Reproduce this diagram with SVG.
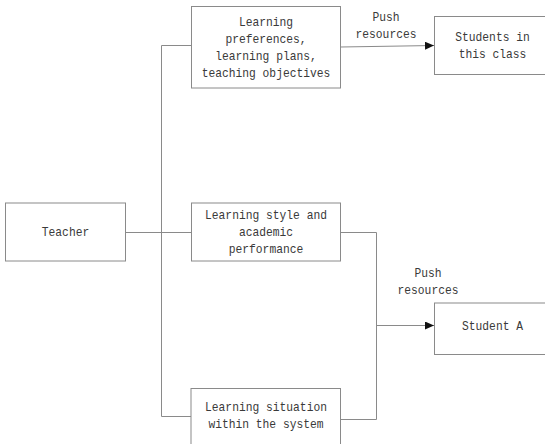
<svg xmlns="http://www.w3.org/2000/svg" width="545" height="444" viewBox="0 0 545 444">
<style>
.box{fill:#fff;stroke:#8a8a8a;stroke-width:1}
.ln{fill:none;stroke:#8a8a8a;stroke-width:1}
text{font-family:"Liberation Mono","DejaVu Sans Mono",monospace;font-size:13.5px;fill:#3a3a3a;text-anchor:middle}
</style>
<defs>
<marker id="ah" markerWidth="10" markerHeight="8" refX="9" refY="4" orient="auto" markerUnits="userSpaceOnUse">
<path d="M0,0 L9,4 L0,8 Z" fill="#111"/>
</marker>
</defs>
<rect width="545" height="444" fill="#fff"/>
<g id="connectors">
<path class="ln" d="M191.5,45.5 H161.5 V416.5 H191"/>
<path class="ln" d="M125.5,232.5 H191"/>
<path class="ln" d="M340.5,47 L434,45.5" marker-end="url(#ah)"/>
<path class="ln" d="M340.5,232.5 H376.5 V419.5 H340.5"/>
<path class="ln" d="M376.5,325.5 H434" marker-end="url(#ah)"/>
<text x="386" y="21" textLength="27.1" lengthAdjust="spacingAndGlyphs">Push</text>
<text x="386" y="37.5" textLength="60.9" lengthAdjust="spacingAndGlyphs">resources</text>
<text x="428" y="277" textLength="27.1" lengthAdjust="spacingAndGlyphs">Push</text>
<text x="428" y="294.3" textLength="60.9" lengthAdjust="spacingAndGlyphs">resources</text>
</g>
<g id="node-objectives">
<rect class="box" x="191.5" y="6.5" width="149" height="81.5"/>
<text x="266" y="26" textLength="54.2" lengthAdjust="spacingAndGlyphs">Learning</text>
<text x="266" y="43" textLength="81.2" lengthAdjust="spacingAndGlyphs">preferences,</text>
<text x="266" y="60" textLength="101.6" lengthAdjust="spacingAndGlyphs">learning plans,</text>
<text x="266" y="76.5" textLength="128.6" lengthAdjust="spacingAndGlyphs">teaching objectives</text>
</g>
<g id="node-class">
<rect class="box" x="434.5" y="16.5" width="120" height="58"/>
<text x="492.5" y="41" textLength="74.5" lengthAdjust="spacingAndGlyphs">Students in</text>
<text x="492.5" y="57.7" textLength="67.7" lengthAdjust="spacingAndGlyphs">this class</text>
</g>
<g id="node-teacher">
<rect class="box" x="5.5" y="203" width="120" height="58"/>
<text x="65.5" y="236" textLength="47.4" lengthAdjust="spacingAndGlyphs">Teacher</text>
</g>
<g id="node-style">
<rect class="box" x="191.5" y="203" width="149" height="58"/>
<text x="266" y="218.5" textLength="121.9" lengthAdjust="spacingAndGlyphs">Learning style and</text>
<text x="266" y="236" textLength="54.2" lengthAdjust="spacingAndGlyphs">academic</text>
<text x="266" y="252.6" textLength="74.5" lengthAdjust="spacingAndGlyphs">performance</text>
</g>
<g id="node-studentA">
<rect class="box" x="434.5" y="303" width="120" height="51.5"/>
<text x="492.5" y="330" textLength="60.9" lengthAdjust="spacingAndGlyphs">Student A</text>
</g>
<g id="node-situation">
<rect class="box" x="191" y="388.5" width="149.5" height="70"/>
<text x="266" y="411" textLength="121.9" lengthAdjust="spacingAndGlyphs">Learning situation</text>
<text x="266" y="428.3" textLength="115.1" lengthAdjust="spacingAndGlyphs">within the system</text>
</g>
</svg>
